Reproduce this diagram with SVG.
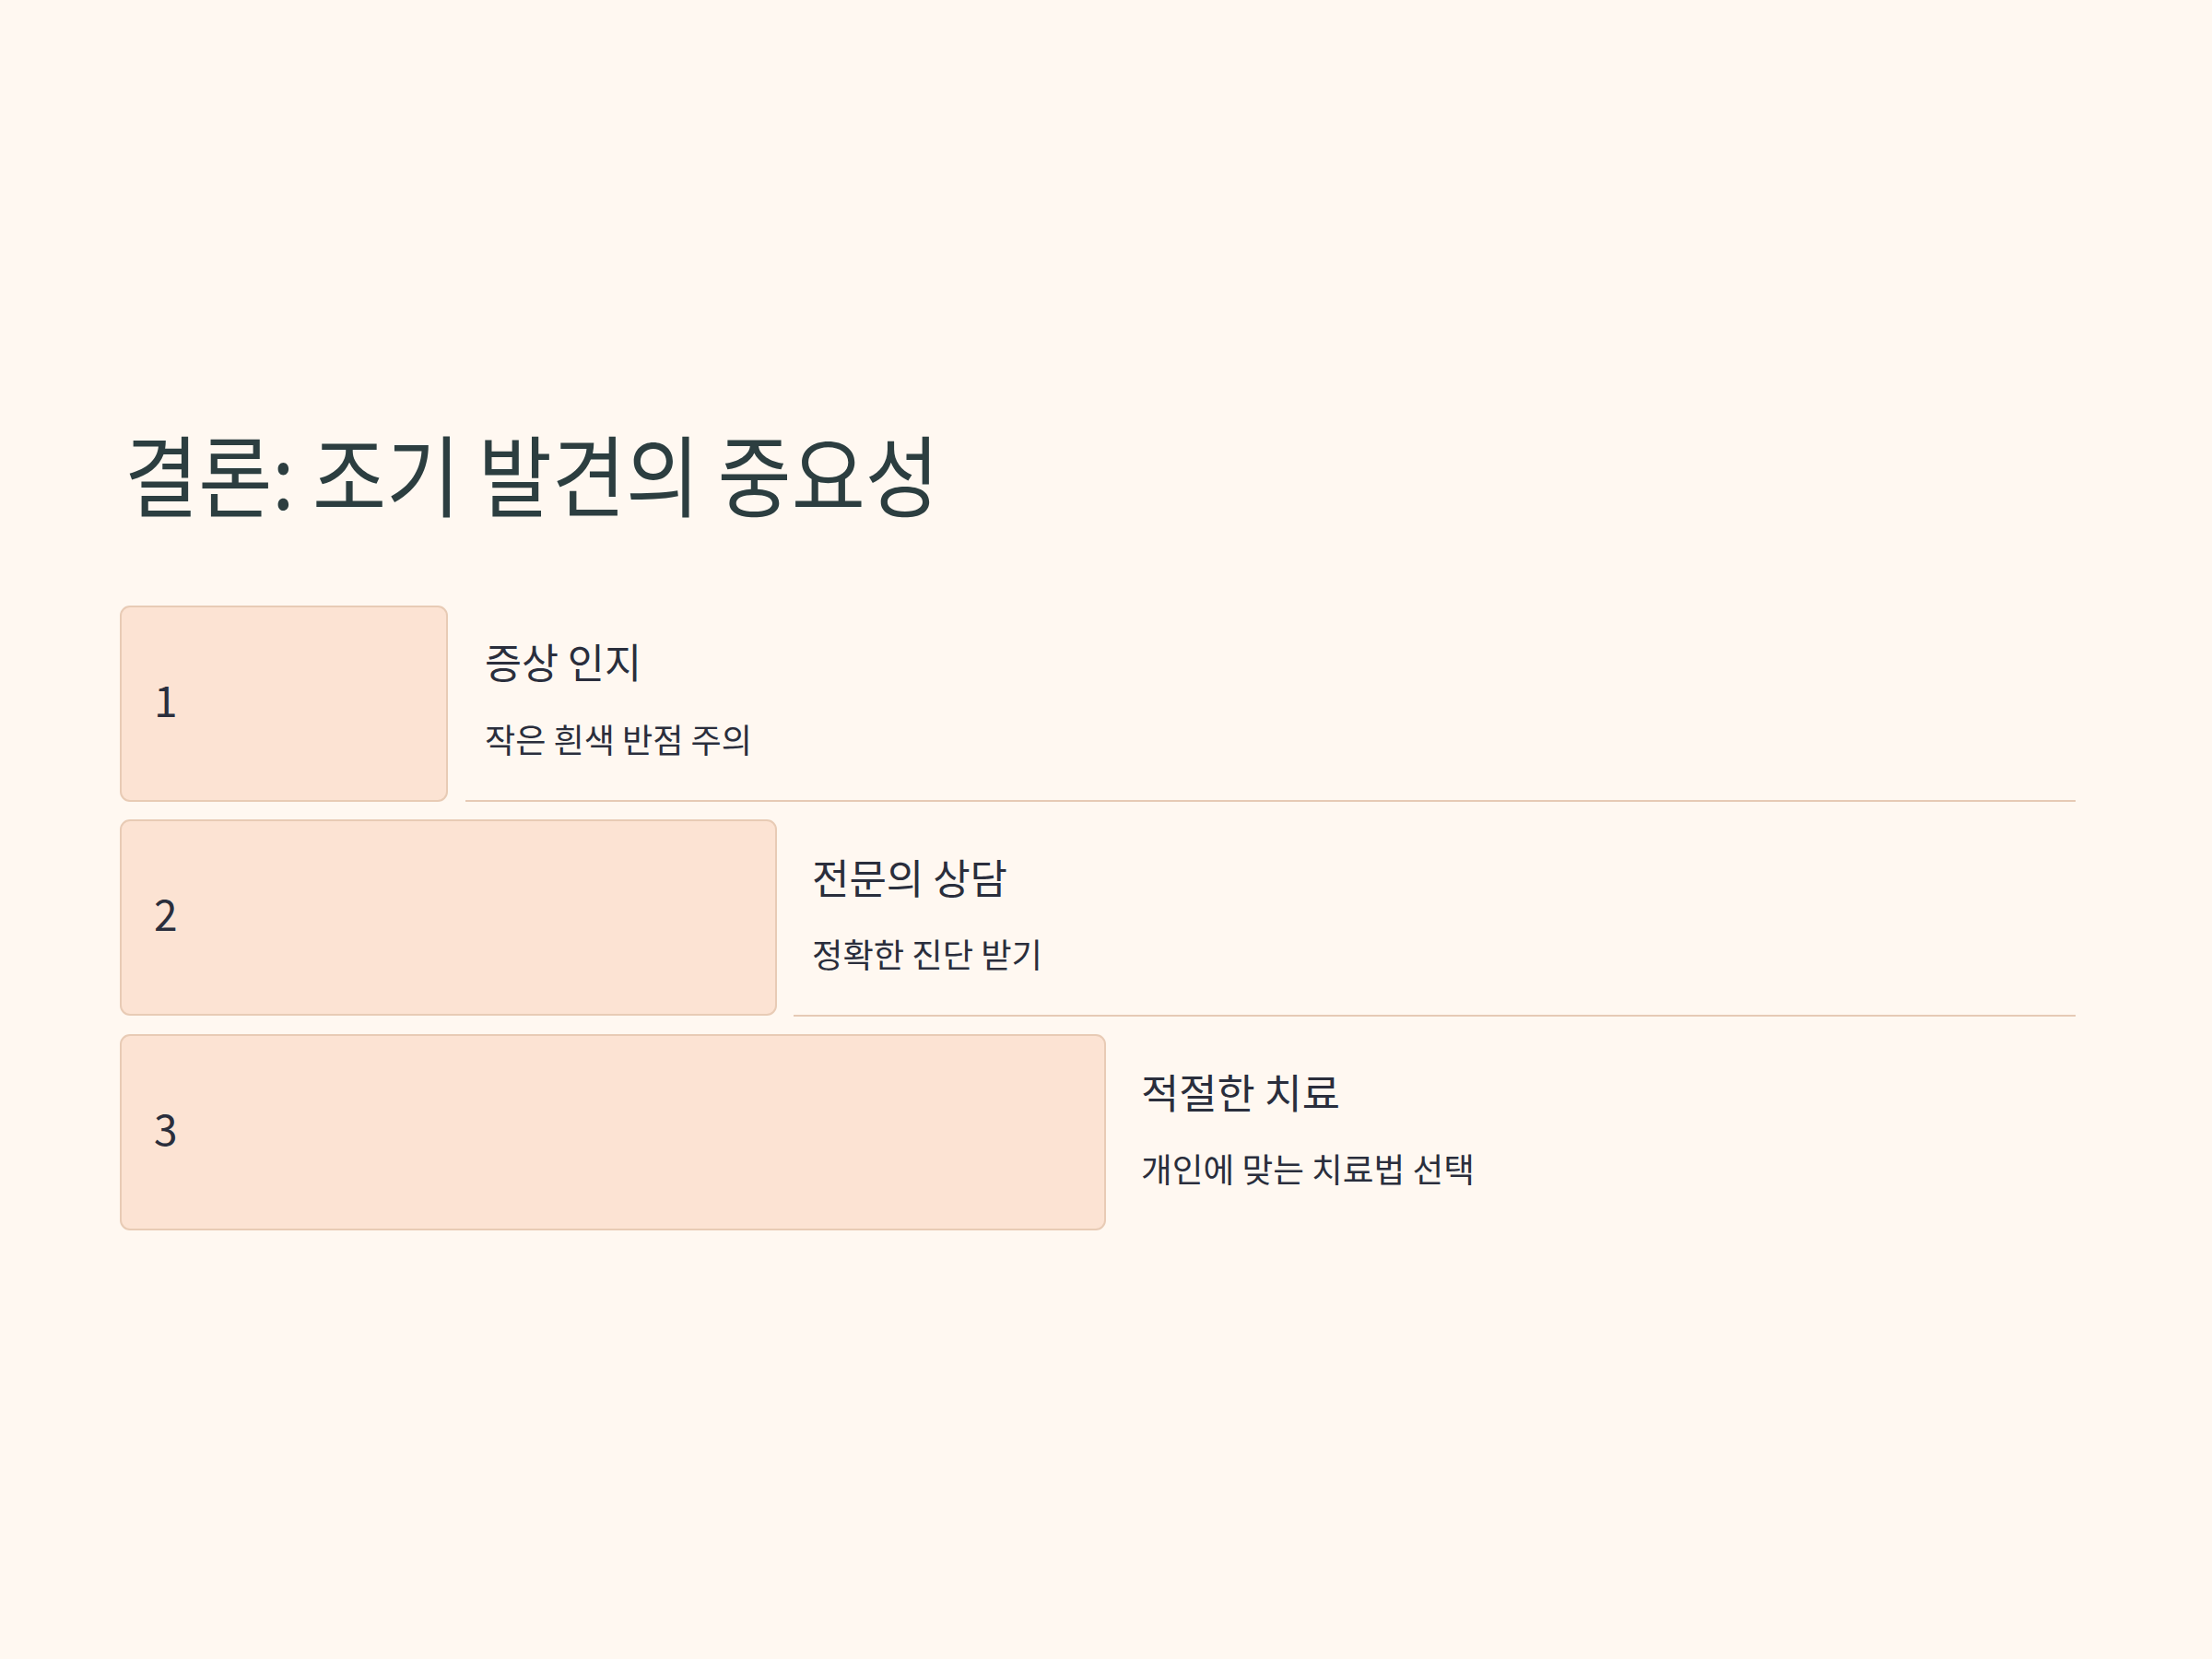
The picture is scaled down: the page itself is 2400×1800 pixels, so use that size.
<svg xmlns="http://www.w3.org/2000/svg" width="2400" height="1800" viewBox="0 0 2400 1800">
<style>
.bg{fill:#FFF8F1}
.box{fill:#FCE3D3;stroke:#E8CBB5;stroke-width:2}
.sep{stroke:#E6CAB5;stroke-width:2}
.title{font-family:"Noto Sans CJK KR","Noto Sans",sans-serif;font-size:96px;fill:#2C3E40}
.num{font-family:"Noto Sans CJK KR","Noto Sans",sans-serif;font-size:46px;fill:#2A2E3C}
.head{font-family:"Noto Sans CJK KR","Noto Sans",sans-serif;font-size:44px;fill:#2A2E3C}
.desc{font-family:"Noto Sans CJK KR","Noto Sans",sans-serif;font-size:36px;fill:#2A2E3C}
</style>
<rect class="bg" x="0" y="0" width="2400" height="1800"/>
<g id="title">
<text class="title" x="135" y="553" textLength="884" lengthAdjust="spacingAndGlyphs">결론: 조기 발견의 중요성</text>
</g>
<g id="connectors">
<line class="sep" x1="505" y1="869" x2="2252" y2="869"/>
<line class="sep" x1="861" y1="1102" x2="2252" y2="1102"/>
</g>
<g id="step1">
<rect class="box" x="131" y="658" width="354" height="211" rx="10"/>
<text class="num" x="167" y="778">1</text>
<text class="head" x="526" y="736" textLength="170" lengthAdjust="spacingAndGlyphs">증상 인지</text>
<text class="desc" x="526" y="817" textLength="290" lengthAdjust="spacingAndGlyphs">작은 흰색 반점 주의</text>
</g>
<g id="step2">
<rect class="box" x="131" y="890" width="711" height="211" rx="10"/>
<text class="num" x="167" y="1010">2</text>
<text class="head" x="881" y="970" textLength="212" lengthAdjust="spacingAndGlyphs">전문의 상담</text>
<text class="desc" x="881" y="1050" textLength="250" lengthAdjust="spacingAndGlyphs">정확한 진단 받기</text>
</g>
<g id="step3">
<rect class="box" x="131" y="1123" width="1068" height="211" rx="10"/>
<text class="num" x="167" y="1243">3</text>
<text class="head" x="1238" y="1203" textLength="216" lengthAdjust="spacingAndGlyphs">적절한 치료</text>
<text class="desc" x="1238" y="1283" textLength="362" lengthAdjust="spacingAndGlyphs">개인에 맞는 치료법 선택</text>
</g>
</svg>
